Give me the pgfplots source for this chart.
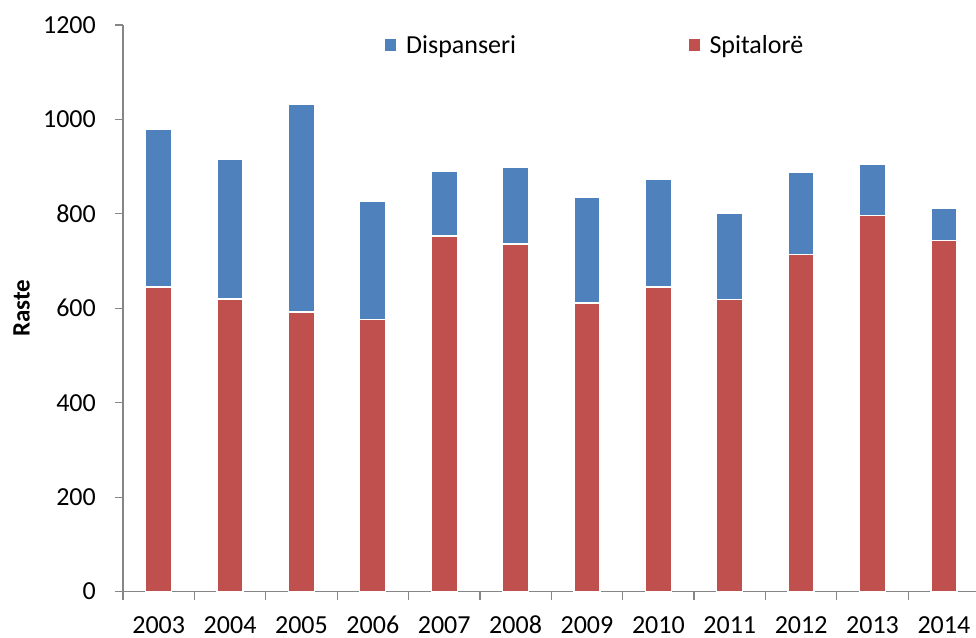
\documentclass[border=0pt]{standalone}
\usepackage{pgfplots}
\pgfplotsset{compat=1.18}
\usepackage{fontspec}
\setmainfont{Carlito}
\usetikzlibrary{shadows}

\definecolor{dispblue}{RGB}{79,129,189}
\definecolor{spitred}{RGB}{192,80,77}
\definecolor{axisgray}{RGB}{134,134,134}

\pgfplotsset{
  squarelegend/.style={
    legend image code/.code={\fill[##1] (0pt,-6.5pt) rectangle (12.5pt,6.5pt);}},
}

\begin{document}
\begin{tikzpicture}
\begin{axis}[
  at={(123pt,45.4pt)}, anchor=south west,
  scale only axis,
  width=853pt, height=566.6pt,
  xmin=-0.5, xmax=11.45,
  ymin=0, ymax=1200,
  ybar stacked, bar width=26pt,
  axis x line=bottom, axis y line=left,
  axis line style={draw=axisgray, line width=1.2pt, -},
  tick align=outside,
  major tick length=8pt, minor tick length=8pt,
  every tick/.style={draw=axisgray, line width=1.2pt},
  xtick={0,...,11},
  xticklabels={2003,2004,2005,2006,2007,2008,2009,2010,2011,2012,2013,2014},
  major x tick style={draw=none},
  minor xtick={-0.5,0.5,...,10.5},
  ytick={0,200,...,1200},
  font=\fontsize{26}{30}\selectfont,
  ticklabel style={font=\fontsize{26}{30}\selectfont},
  /pgf/number format/assume math mode=true,
  /pgf/number format/1000 sep={},
  yticklabel style={anchor=east, inner sep=0pt, xshift=-19pt},
  xticklabel style={anchor=north, inner sep=0pt, yshift=-17pt,
    text height=16.5pt, text depth=0pt},
  ylabel={\textbf{Raste}},
  ylabel style={at={(axis description cs:-0.119,0.5)}, anchor=center,
    font=\fontsize{25}{30}\selectfont},
  legend columns=2,
  legend style={draw=none, fill=none, at={(0.3056,0.965)}, anchor=west,
    inner sep=0pt, font=\fontsize{26}{30}\selectfont,
    nodes={inner sep=0pt, anchor=west},
    /tikz/every odd column/.append style={column sep=8.5pt},
    /tikz/every even column/.append style={column sep=171pt}},
  squarelegend,
  reverse legend,
  every axis plot/.append style={draw=white, line width=1.3pt,
    drop shadow={shadow xshift=0pt, shadow yshift=0pt, shadow scale=1.0,
      opacity=0.25, fill=black}},
]
\addplot[fill=spitred] coordinates {
  (0,645) (1,620) (2,592) (3,577) (4,753) (5,736)
  (6,611) (7,645) (8,618) (9,714) (10,797) (11,744)};
\addlegendentry{Spitalorë}
\addplot[fill=dispblue] coordinates {
  (0,334) (1,295) (2,440) (3,249) (4,136) (5,163)
  (6,225) (7,229) (8,183) (9,174) (10,108) (11,67)};
\addlegendentry{Dispanseri}
\end{axis}
\pgfresetboundingbox
\path (0,0) rectangle (976pt,637pt);
\end{tikzpicture}
\end{document}
